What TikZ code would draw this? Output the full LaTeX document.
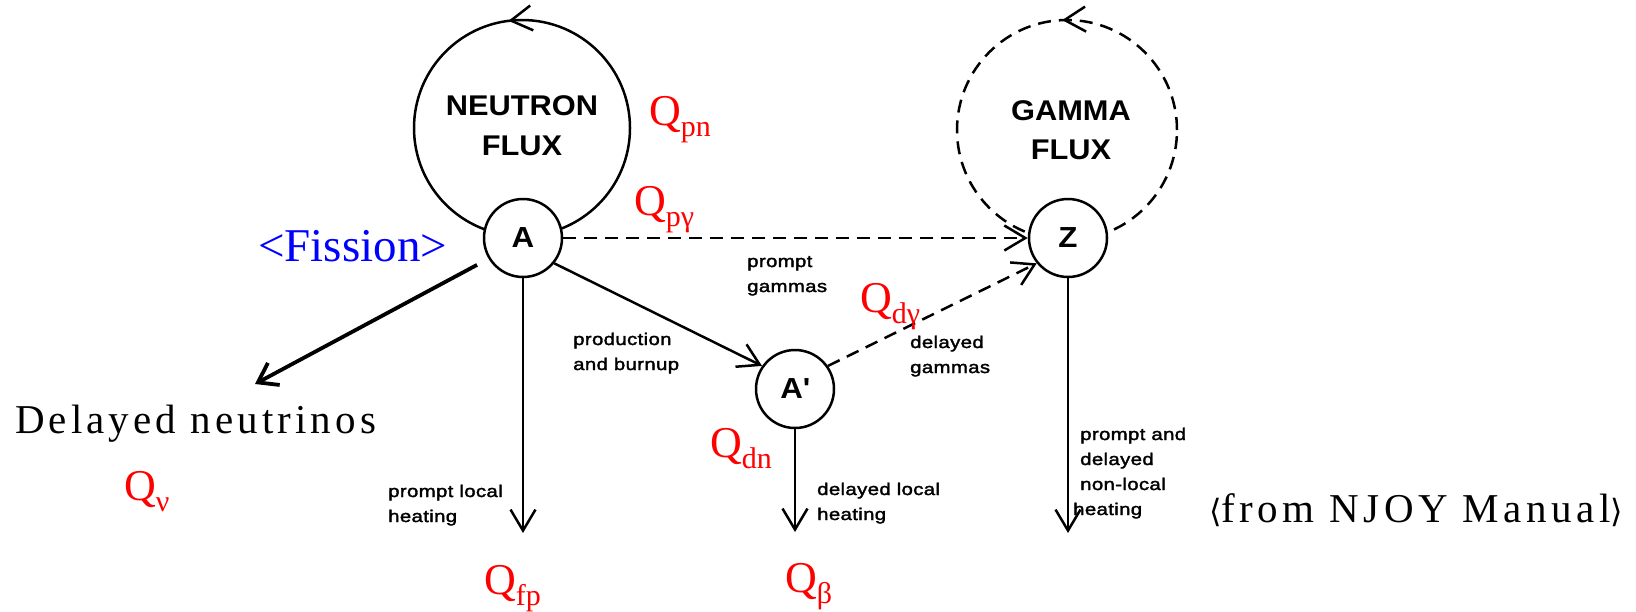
\documentclass[tikz,border=0pt]{standalone}
\usepackage{fontspec}
\setmainfont{Liberation Serif}
\newfontfamily\diagfont[FakeStretch=1.08]{Liberation Sans}
\newfontfamily\smallfont[FakeStretch=1.2,LetterSpace=2,FakeBold=2]{Liberation Sans}
\newfontfamily\spacedfont[LetterSpace=10]{Liberation Serif}
\newfontfamily\njoyfont[LetterSpace=11]{Liberation Serif}
\newfontfamily\brfont{DejaVu Sans}
\usetikzlibrary{arrows.meta,decorations.markings}
\newcommand\qsub[1]{Q\raisebox{-11pt}{\fontsize{30}{30}\selectfont #1}}
\tikzset{
  thinline/.style={line width=2.5pt},
  barbarrow/.style={-{Straight Barb[length=21pt,width=25pt]}},
  dashline/.style={dash pattern=on 13pt off 8pt},
  circ/.style={circle, draw, line width=2.5pt, fill=white, minimum size=78pt, inner sep=0pt,
    font=\diagfont\bfseries\fontsize{29}{30}\selectfont},
  fluxtxt/.style={anchor=base, inner sep=0pt, font=\diagfont\bfseries\fontsize{28.5}{40}\selectfont},
  smalltxt/.style={font=\smallfont\fontsize{17}{25}\selectfont, anchor=base west, inner sep=0pt},
  qlab/.style={font=\fontsize{44}{44}\selectfont, text=red, anchor=base west, inner sep=0pt},
  looparrow/.style={postaction={decorate}, decoration={markings,
    mark=at position #1 with {\arrow{Straight Barb[length=21pt,width=25pt]}}}},
}
\begin{document}
\begin{tikzpicture}[x=1pt,y=-1pt]
\useasboundingbox (0,0) rectangle (1636,611);
% loops
\draw[thinline, looparrow=0.27] (522,128) circle [radius=108pt];
\draw[thinline, dashline, looparrow=0.257] (1067,130) circle [radius=110pt];
% flux labels
\node[fluxtxt] (nflux) at (522,115) {\vtop{\halign{\hfil#\hfil\cr NEUTRON\cr FLUX\cr}}};
\node[fluxtxt] (gflux) at (1071,120) {\vtop{\baselineskip=39pt\halign{\hfil#\hfil\cr GAMMA\cr FLUX\cr}}};
% small circles
\node[circ] (A) at (523,238) {A};
\node[circ] (Ap) at (795,389) {A\textquotesingle};
\node[circ] (Z) at (1068,238) {Z};
% end points
\coordinate (fpEnd) at (523,533);
\coordinate (apEnd) at (795,532);
\coordinate (zEnd) at (1068,533);
\coordinate (nuEnd) at (255,384);
% connectors
\draw[thinline, dashline, barbarrow] (A) -- (Z);
\draw[thinline, barbarrow] (A.-39) -- (Ap.145);
\draw[thinline, dashline, barbarrow] (Ap.35) -- (Z.-141);
\draw[thinline, barbarrow] (A.south) -- (fpEnd);
\draw[thinline, barbarrow] (Ap.south) -- (apEnd);
\draw[thinline, barbarrow] (Z.south) -- (zEnd);
\draw[line width=3.8pt, -{Straight Barb[length=18pt,width=25pt]}, shorten <=13pt] (A.-149) -- (nuEnd);
% small texts
\node[smalltxt] (tpg) at (747,267) {\vtop{\hbox{prompt}\hbox{gammas}}};
\node[smalltxt] (tpb) at (573,345) {\vtop{\hbox{production}\hbox{and burnup}}};
\node[smalltxt] (tdg) at (910,348) {\vtop{\hbox{delayed}\hbox{gammas}}};
\node[smalltxt] (tplh) at (388,497) {\vtop{\hbox{prompt local}\hbox{heating}}};
\node[smalltxt] (tdlh) at (817,495) {\vtop{\hbox{delayed local}\hbox{heating}}};
\node[smalltxt] (tnl) at (1080,440) {\vtop{\hbox{prompt and}\hbox{delayed}\hbox{non-local}\hbox{\kern-7pt heating}}};
% red Q labels
\node[qlab] (qpn) at (649,125) {\qsub{pn}};
\node[qlab] (qpg) at (634,215) {\qsub{pγ}};
\node[qlab] (qdg) at (860,312) {\qsub{dγ}};
\node[qlab] (qnu) at (124,500) {\qsub{ν}};
\node[qlab] (qdn) at (710,457) {\qsub{dn}};
\node[qlab] (qfp) at (484,594) {\qsub{fp}};
\node[qlab] (qb) at (785,592) {\qsub{β}};
% annotations
\node[anchor=base west, inner sep=0pt, text=blue, font=\fontsize{47}{47}\selectfont] (fis) at (258,261) {<Fission>};
\node[anchor=base west, inner sep=0pt, font=\spacedfont\fontsize{41}{41}\selectfont] (dn) at (15,433) {Delayed neutrinos};
\node[anchor=base west, inner sep=0pt, font=\njoyfont\fontsize{41}{41}\selectfont] (njoy) at (1209,522) {{\brfont\fontsize{32}{32}\selectfont ⟨}from NJOY Manual{\brfont\fontsize{32}{32}\selectfont ⟩}};
\end{tikzpicture}
\end{document}
